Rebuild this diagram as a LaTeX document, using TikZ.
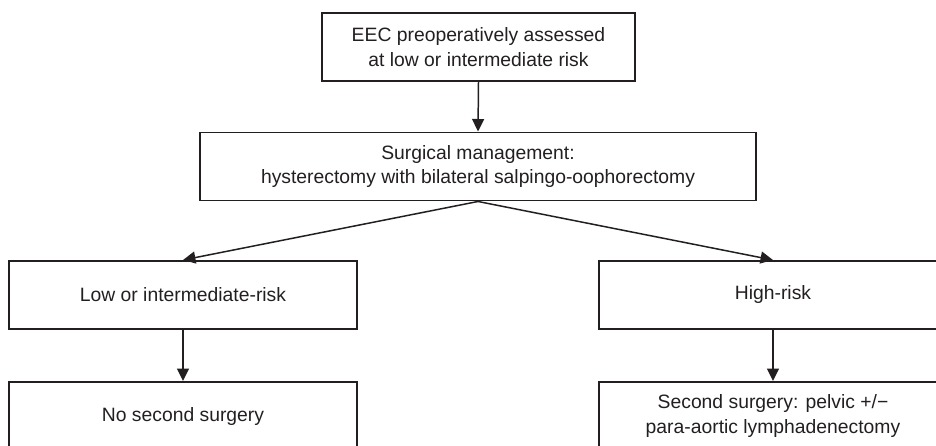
\documentclass[tikz,border=0pt]{standalone}
\usepackage{fontspec}
\setmainfont{Liberation Sans}
\usetikzlibrary{arrows.meta}
\definecolor{ink}{HTML}{231F20}
\begin{document}
\begin{tikzpicture}[x=0.02cm, y=-0.02cm, >={Triangle[length=0.25cm,width=0.24cm]},
    box/.style={draw=ink, line width=0.85pt, text=ink, align=center, inner sep=0pt,
        minimum height=1.37cm, font=\fontsize{11}{13.8}\selectfont},
    arr/.style={draw=ink, line width=0.85pt, ->}]
\clip (0,0) rectangle (936,446);

\node[box, minimum width=6.26cm] (eec) at (478.5,47) {EEC preoperatively assessed\\at low or intermediate risk};
\node[box, minimum width=11.12cm] (surg) at (478,166.5) {Surgical management:\\hysterectomy with bilateral salpingo-oophorectomy};

\node[box, minimum width=6.96cm] (low) at (183,295) {Low or intermediate-risk};
\node[box, minimum width=6.96cm] (high) at (773,295) {High-risk};

\node[box, minimum width=6.96cm] (nosec) at (183,416) {No second surgery};
\node[box, minimum width=6.96cm] (second) at (773,416) {Second surgery: pelvic +/−\\para-aortic lymphadenectomy};

\draw[arr] (eec.south) -- (surg.north);
\draw[arr] (surg.south) -- (low.north);
\draw[arr] (surg.south) -- (high.north);

\draw[arr] (low) -- (nosec);
\draw[arr] (high) -- (second);

\end{tikzpicture}
\end{document}
